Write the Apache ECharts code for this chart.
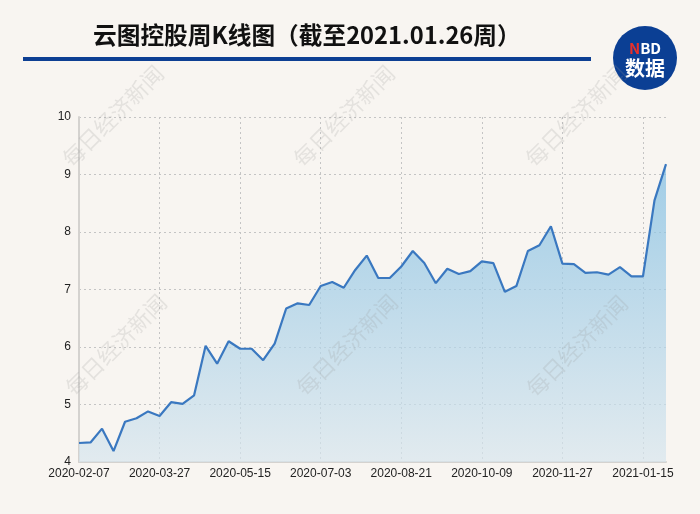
<!DOCTYPE html>
<html>
<head>
<meta charset="utf-8">
<script src="https://cdn.jsdelivr.net/npm/echarts@6/dist/echarts.min.js"></script>
<style>
html,body{margin:0;padding:0;background:#f8f5f1;}
#chart{width:700px;height:514px;}
</style>
</head>
<body>
<div id="chart"></div>
<script>
var titleText = '云图控股周K线图（截至2021.01.26周）';
var dates = [
  '2020-02-07','2020-02-14','2020-02-21','2020-02-28','2020-03-06','2020-03-13','2020-03-20',
  '2020-03-27','2020-04-03','2020-04-10','2020-04-17','2020-04-24','2020-04-30','2020-05-08',
  '2020-05-15','2020-05-22','2020-05-29','2020-06-05','2020-06-12','2020-06-19','2020-06-24',
  '2020-07-03','2020-07-10','2020-07-17','2020-07-24','2020-07-31','2020-08-07','2020-08-14',
  '2020-08-21','2020-08-28','2020-09-04','2020-09-11','2020-09-18','2020-09-25','2020-09-30',
  '2020-10-09','2020-10-16','2020-10-23','2020-10-30','2020-11-06','2020-11-13','2020-11-20',
  '2020-11-27','2020-12-04','2020-12-11','2020-12-18','2020-12-25','2020-12-31','2021-01-08',
  '2021-01-15','2021-01-22','2021-01-26'
];
var closePrices = [
  4.33,4.34,4.58,4.19,4.70,4.76,4.88,
  4.80,5.04,5.01,5.16,6.02,5.71,6.10,
  5.97,5.97,5.77,6.06,6.67,6.76,6.73,
  7.06,7.13,7.03,7.34,7.59,7.20,7.20,
  7.40,7.67,7.46,7.11,7.36,7.27,7.32,
  7.49,7.46,6.96,7.06,7.67,7.77,8.10,
  7.45,7.44,7.29,7.30,7.26,7.39,7.23,
  7.23,8.55,9.18
];
var yTicks = [4,5,6,7,8,9,10];
var watermarkText = '每日经济新闻';
var watermarkCenters = [[113,116],[344,116],[576,116],[116,345],[347,345],[577,346]];

var chart = echarts.init(document.getElementById('chart'), null, {renderer:'canvas'});

var graphics = [
  {type:'text', left:93, top:23, z:10,
   style:{text:titleText, font:'bold 23.7px "Noto Sans CJK SC"', fill:'#111'}},
  {type:'rect', shape:{x:23, y:57, width:568, height:4}, style:{fill:'#0d3f93'}, z:10},
  {type:'circle', shape:{cx:645, cy:58, r:32}, style:{fill:'#0b3f94'}, z:10},
  {type:'text', x:645, y:48, z:11,
   style:{rich:{n:{fill:'#e8302a', font:'bold 15px "Noto Sans CJK SC"'}, b:{fill:'#fff', font:'bold 15px "Noto Sans CJK SC"'}},
          text:'{n|N}{b|BD}', align:'center', verticalAlign:'middle'}},
  {type:'text', x:645, y:68, z:11,
   style:{text:'数据', fill:'#fff', font:'bold 20px "Noto Sans CJK SC"', align:'center', verticalAlign:'middle'}}
];
watermarkCenters.forEach(function(c){
  graphics.push({type:'text', x:c[0], y:c[1], rotation:Math.PI/4, z:50, silent:true,
    style:{text:watermarkText, font:'22px "Noto Sans CJK SC"', fill:'rgba(150,150,150,0.2)',
           align:'center', verticalAlign:'middle'}});
});

chart.setOption({
  backgroundColor:'#f8f5f1',
  animation:false,
  grid:{left:79, right:34, top:117, bottom:52},
  graphic:graphics,
  xAxis:{
    type:'category', data:dates, boundaryGap:false,
    axisLine:{show:true, lineStyle:{color:'#d4d2cf', width:2}},
    axisTick:{show:false},
    axisLabel:{interval:6, color:'#222', fontSize:12, fontFamily:'"Liberation Sans", Arial', margin:6},
    splitLine:{show:true, interval:6, lineStyle:{color:'#c4c4c4', type:[2,3], width:1}}
  },
  yAxis:{
    type:'value', min:4, max:10, interval:1,
    axisLine:{show:true, lineStyle:{color:'#d4d2cf', width:2}},
    axisTick:{show:false},
    axisLabel:{color:'#222', fontSize:12, fontFamily:'"Liberation Sans", Arial', margin:8,
      formatter:function(v){ return yTicks.indexOf(v) >= 0 ? String(v) : ''; }},
    splitLine:{show:true, lineStyle:{color:'#c4c4c4', type:[2,3], width:1}}
  },
  series:[{
    type:'line', data:closePrices, showSymbol:false, symbol:'none',
    lineStyle:{color:'#3a78c0', width:2.2},
    areaStyle:{color:new echarts.graphic.LinearGradient(0,0,0,1,[
      {offset:0, color:'#7cbce2'},{offset:1, color:'#d8e6ee'}])},
    z:3
  }]
});
</script>
</body>
</html>
